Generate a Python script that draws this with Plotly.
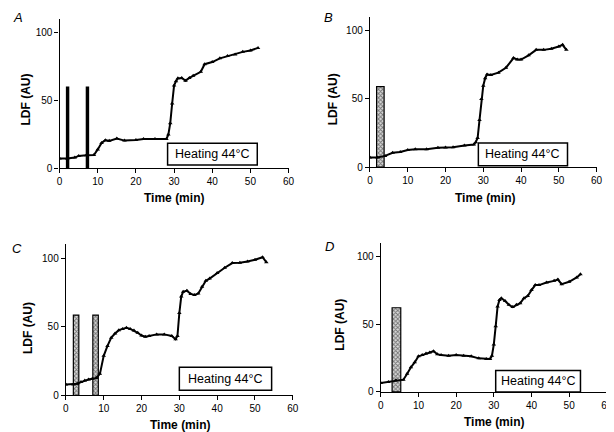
import plotly.graph_objects as go

W, H = 614, 432

# ---------------- data ----------------
tA = [0, 2, 4, 5, 7, 9, 10, 11, 12, 13, 15, 17, 20, 22, 25, 28, 28.5, 29, 29.5, 30, 30.5, 31, 32, 33, 34, 35, 37, 38, 40, 42, 44, 46, 48, 50, 52]
vA = [7.0, 7.0, 7.7, 8.9, 9.4, 9.6, 13.7, 18.5, 20.5, 20.0, 21.7, 20.2, 20.7, 21.4, 21.4, 21.4, 24.6, 33.0, 47.5, 60.7, 63.9, 66.0, 66.3, 64.3, 66.3, 68.0, 70.8, 76.4, 78.0, 80.7, 82.4, 83.6, 85.5, 86.5, 88.4]

tB = [0, 2, 4, 6, 8, 10, 12, 15, 18, 20, 22, 25, 27.5, 28, 28.5, 29, 29.5, 30, 30.5, 31, 32, 34, 36, 38, 39, 40, 42, 44, 46, 48, 50, 51, 52]
vB = [7.0, 7.0, 8.2, 10.5, 11.0, 12.5, 13.0, 13.0, 14.1, 14.4, 14.6, 15.8, 16.5, 18.2, 21.3, 34.5, 50.0, 59.7, 65.2, 68.0, 67.6, 69.3, 72.9, 80.0, 78.9, 78.9, 82.0, 86.0, 86.0, 86.8, 88.5, 89.7, 86.0]

tC = [0, 2, 3, 4, 5, 6, 7, 8, 9, 10, 11, 12, 13, 14, 15, 16, 17, 18, 19, 20, 21, 22, 24, 26, 28, 29, 29.5, 30, 30.5, 31, 32, 33, 34, 35, 36, 37, 38, 40, 42, 44, 46, 48, 50, 52, 53]
vC = [7.9, 7.9, 8.4, 9.6, 10.8, 11.5, 12.0, 12.5, 15.6, 28.8, 36.0, 42.0, 45.0, 47.5, 48.4, 49.2, 48.4, 47.2, 45.6, 43.6, 42.7, 43.2, 44.4, 44.4, 43.2, 40.8, 43.2, 60.0, 72.0, 75.5, 76.3, 73.9, 73.1, 74.3, 79.1, 83.5, 85.1, 89.2, 93.0, 96.4, 96.6, 97.6, 98.8, 100.7, 97.1]

tD = [0, 2, 4, 6, 7, 8, 9, 10, 11, 12, 13, 14, 15, 16, 18, 20, 22, 24, 26, 28, 29, 29.5, 30, 30.5, 31, 31.5, 32, 33, 34, 35, 36, 37, 38, 39, 40, 41, 42, 44, 46, 47, 48, 50, 52, 53]
vD = [6.5, 7.3, 8.5, 9.0, 13.3, 18.2, 21.8, 26.2, 27.1, 28.3, 29.0, 30.0, 27.8, 27.1, 26.6, 27.1, 26.6, 26.2, 24.7, 24.2, 24.2, 26.6, 35.0, 48.4, 63.0, 67.8, 69.0, 67.0, 64.2, 62.5, 64.2, 65.4, 69.0, 70.7, 75.0, 78.7, 78.7, 80.6, 81.8, 82.8, 79.4, 81.1, 84.3, 86.7]

# stimulation bars (centre time, width in min, height)
barA_x = [2.1, 7.3]; barA_w = [0.9, 0.9]; barA_h = [60, 60]
barB_x = [2.75]; barB_w = [2.0]; barB_h = [59]
barC_x = [2.7, 7.85]; barC_w = [1.45, 1.45]; barC_h = [58.5, 58.5]
barD_x = [4.15]; barD_w = [2.3]; barD_h = [62]

# heating boxes (x0, x1, y0, y1 in data units)
heatA = [28.3, 51.8, 2.2, 18.3]
heatB = [28.7, 52.3, 1.0, 17.7]
heatC = [30.0, 54.4, 3.6, 20.4]
heatD = [30.5, 53.0, 0.0, 15.7]

x_ticks = [0, 10, 20, 30, 40, 50, 60]
y_ticks = [0, 50, 100]
panel_labels = ["A", "B", "C", "D"]

# ---------------- layout geometry (pixels) ----------------
# (x0px, x1px, ybottom_px, ytop_px)
geo = [
    (49.3, 281.7, 162.3, 10.7),
    (364.3, 594.3, 161.3, 9.3),
    (55.7, 286.0, 392.7, 239.8),
    (375.3, 604.7, 389.3, 237.9),
]
xtitle_pos = [(165, 193), (480.7, 192.7), (172, 422.7), (490.3, 420)]
ytitle_pos = [(15, 93), (326.3, 93), (16.7, 324), (333, 321)]
label_pos = [(7, 10), (322.3, 9.5), (6, 244), (323, 242)]

def px(x):
    return x / W

def py(y):
    return (H - y) / H

FONT = "Liberation Sans, Arial, sans-serif"

fig = go.Figure()
series = [(tA, vA), (tB, vB), (tC, vC), (tD, vD)]
bars = [(barA_x, barA_w, barA_h, False), (barB_x, barB_w, barB_h, True),
        (barC_x, barC_w, barC_h, True), (barD_x, barD_w, barD_h, True)]
heats = [heatA, heatB, heatC, heatD]

annotations = []
shapes = []
for i in range(4):
    sx = "" if i == 0 else str(i + 1)
    xa, ya = "x" + sx, "y" + sx
    bx, bw, bh, hatched = bars[i]
    if hatched:
        marker = dict(color="white", line=dict(color="black", width=1.2),
                      pattern=dict(shape="x", size=3, solidity=0.5,
                                   fgcolor="#111111", bgcolor="#d8d8d8"))
    else:
        marker = dict(color="black", line=dict(width=0))
    fig.add_trace(go.Bar(x=bx, y=bh, width=bw, marker=marker,
                         xaxis=xa, yaxis=ya, showlegend=False))
    t, v = series[i]
    fig.add_trace(go.Scatter(x=t, y=v, mode="lines+markers",
                             line=dict(color="black", width=2),
                             marker=dict(symbol="triangle-up", size=4, color="black"),
                             xaxis=xa, yaxis=ya, showlegend=False))
    x0, x1, yb, yt = geo[i]
    axis_common = dict(showgrid=False, zeroline=False, showline=True,
                       linecolor="black", linewidth=1.3, ticks="outside",
                       ticklen=4, tickwidth=1.2, tickcolor="black",
                       tickfont=dict(family=FONT, size=10, color="black"))
    fig.layout["xaxis" + sx] = dict(domain=[px(x0), px(x1)], range=[0, 60],
                                    tickvals=x_ticks, anchor=ya, **axis_common)
    fig.layout["yaxis" + sx] = dict(domain=[py(yb), py(yt)], range=[0, 110],
                                    tickvals=y_ticks, anchor=xa, **axis_common)
    hx0, hx1, hy0, hy1 = heats[i]
    shapes.append(dict(type="rect", xref=xa, yref=ya, x0=hx0, x1=hx1, y0=hy0, y1=hy1,
                       line=dict(color="black", width=1.5), fillcolor="white", layer="above"))
    annotations.append(dict(text="Heating 44°C", xref=xa, yref=ya,
                            x=(hx0 + hx1) / 2, y=(hy0 + hy1) / 2, showarrow=False,
                            xanchor="center", yanchor="middle",
                            font=dict(family=FONT, size=12.5, color="black")))
    annotations.append(dict(text="<b>Time (min)</b>", xref="paper", yref="paper",
                            x=px(xtitle_pos[i][0]), y=py(xtitle_pos[i][1]), showarrow=False,
                            xanchor="center", yanchor="middle",
                            font=dict(family=FONT, size=12, color="black")))
    annotations.append(dict(text="<b>LDF (AU)</b>", xref="paper", yref="paper",
                            x=px(ytitle_pos[i][0]), y=py(ytitle_pos[i][1]), showarrow=False,
                            textangle=-90, xanchor="center", yanchor="middle",
                            font=dict(family=FONT, size=12, color="black")))
    annotations.append(dict(text="<i>" + panel_labels[i] + "</i>", xref="paper", yref="paper",
                            x=px(label_pos[i][0]), y=py(label_pos[i][1]), showarrow=False,
                            xanchor="center", yanchor="middle",
                            font=dict(family=FONT, size=13, color="black")))

fig.update_layout(width=W, height=H, margin=dict(l=0, r=0, t=0, b=0),
                  paper_bgcolor="white", plot_bgcolor="white",
                  shapes=shapes, annotations=annotations, barmode="overlay")

fig.write_html("out.html")
